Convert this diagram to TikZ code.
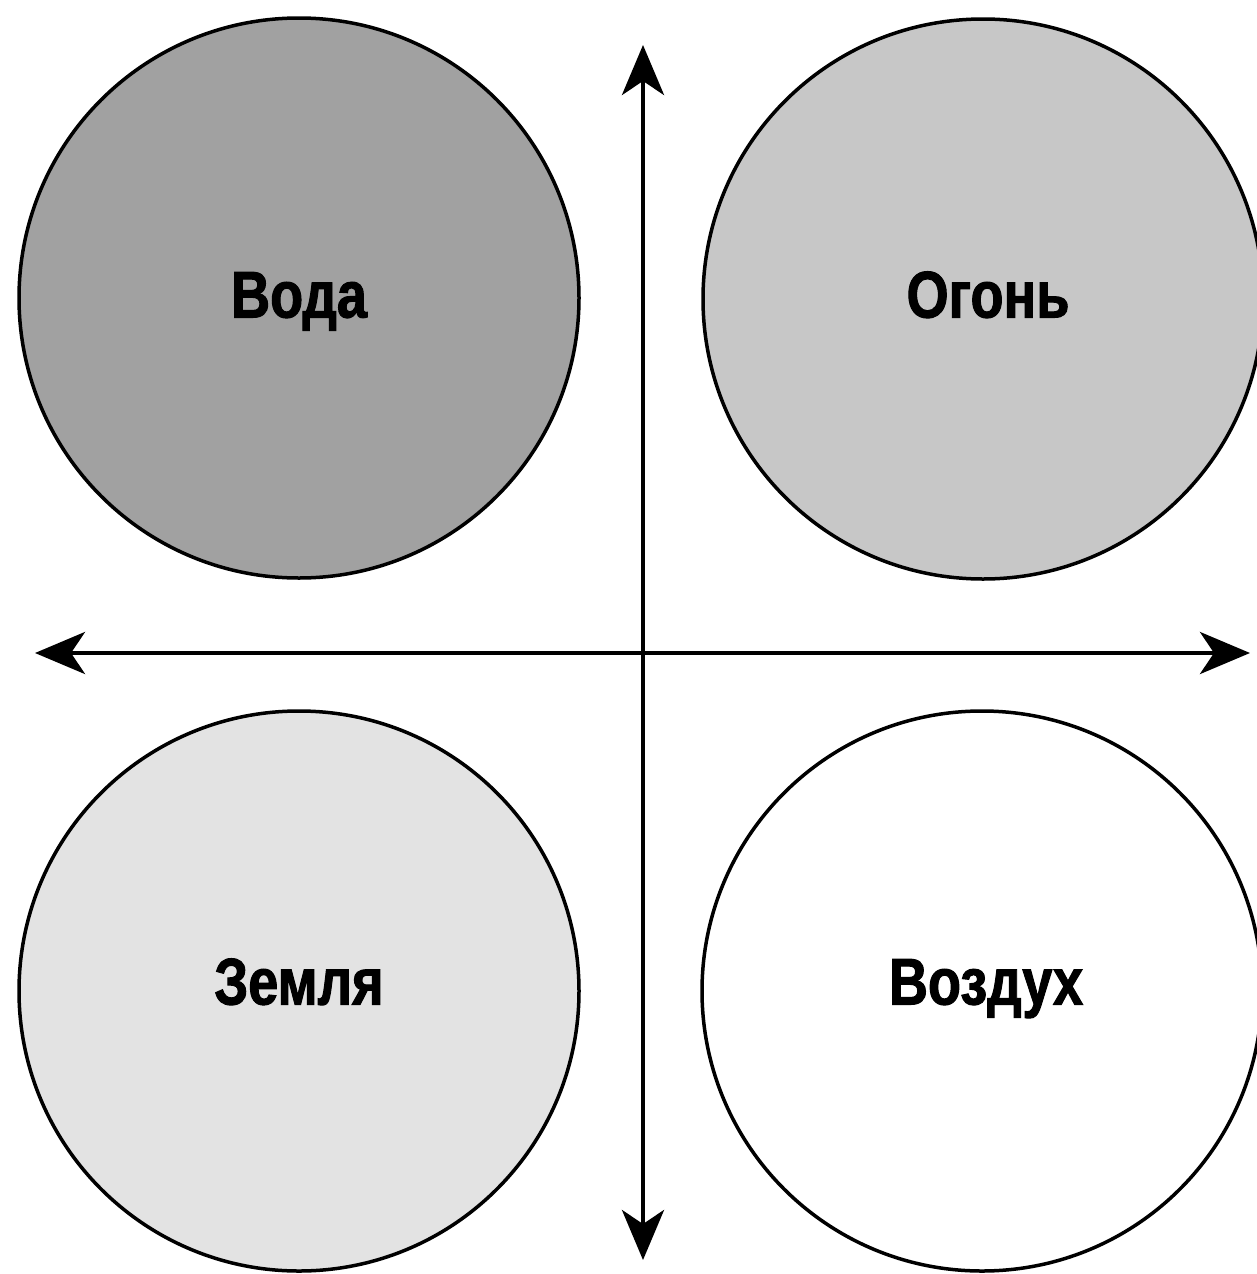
\documentclass[tikz,border=0pt]{standalone}
\usepackage{fontspec}
\newfontfamily\condfont[FakeStretch=0.82,FakeBold=1.5]{Liberation Sans}
\usetikzlibrary{arrows.meta}
\definecolor{vodagray}{gray}{0.63}
\definecolor{ogongray}{gray}{0.78}
\definecolor{zemgray}{gray}{0.89}
\tikzset{
  elem/.style={circle, draw=black, line width=3.5pt, minimum size=560pt, inner sep=0pt},
  lbl/.style={inner sep=0pt, text height=47pt, text depth=0pt,
    font=\condfont\bfseries\fontsize{66}{66}\selectfont},
  axis/.style={line width=4.5pt, {Stealth[length=50pt,width=42pt,inset=14pt]}-{Stealth[length=50pt,width=42pt,inset=14pt]}}
}
\begin{document}
\begin{tikzpicture}[x=1pt,y=-1pt]
\useasboundingbox (0,0) rectangle (1257,1274);
\node[elem, fill=vodagray] (voda) at (299,298) {};
\node[elem, fill=ogongray] (ogon) at (983,299) {};
\node[elem, fill=zemgray] (zemlya) at (299,991) {};
\node[elem, fill=white] (vozduh) at (982,991) {};
\node[lbl] (vodaT) at (299,294) {Вода};
\node[lbl] (ogonT) at (988,294) {Огонь};
\node[lbl] (zemlyaT) at (299,981) {Земля};
\node[lbl] (vozduhT) at (986,981) {Воздух};
\coordinate (top) at (643,45);
\coordinate (bottom) at (643,1260);
\coordinate (left) at (35,653);
\coordinate (right) at (1250,653);
\draw[axis] (top) -- (bottom);
\draw[axis] (left) -- (right);
\end{tikzpicture}
\end{document}
